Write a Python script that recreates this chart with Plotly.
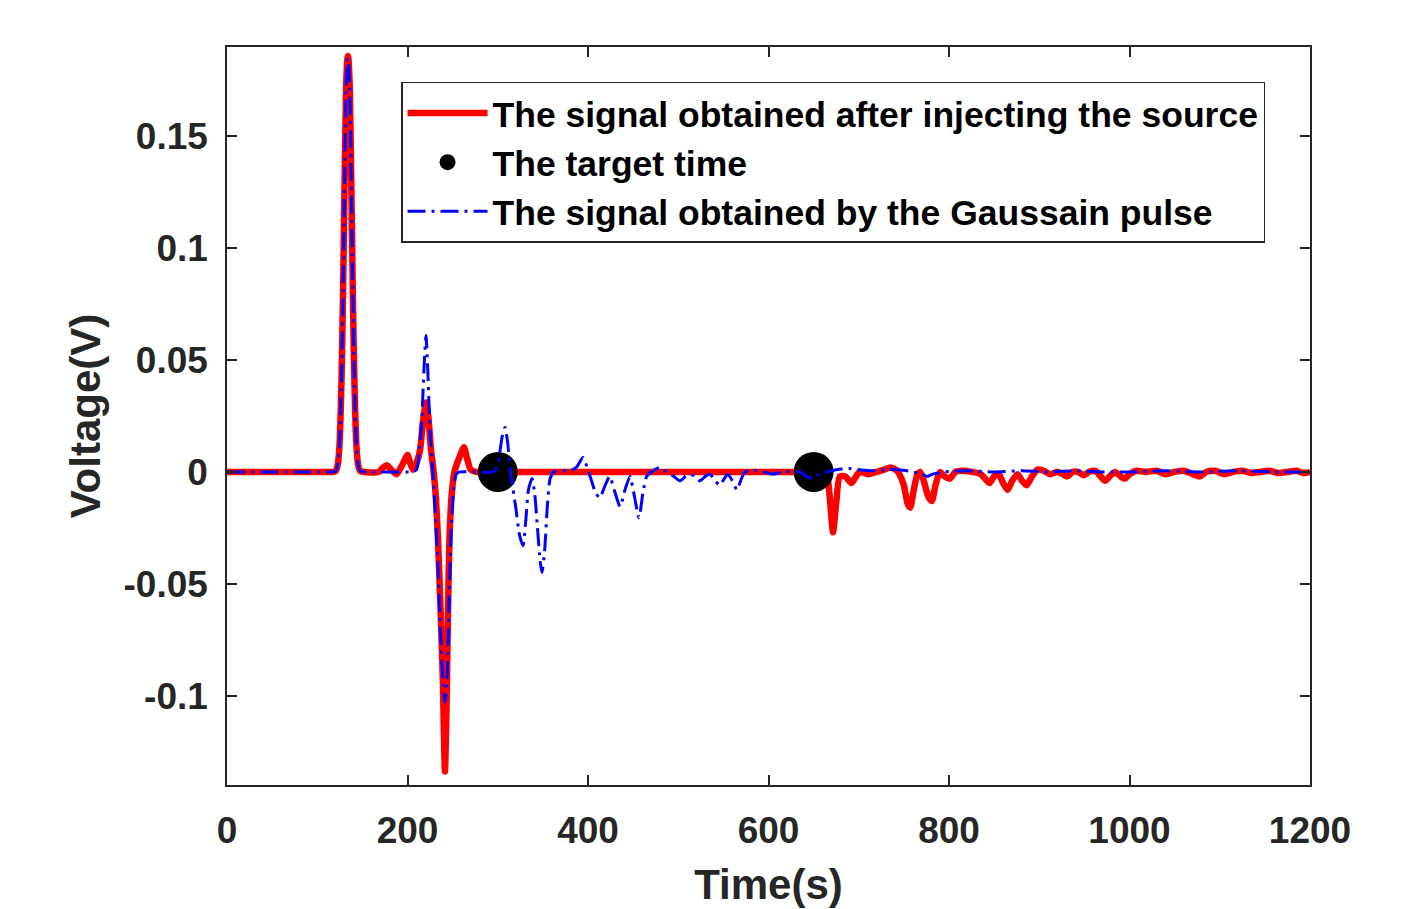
import plotly.graph_objects as go

# ---- data ----
t_red = [0, 100, 116, 120, 121.5, 123, 124.5, 126, 127.5, 129, 130.5, 132, 133.5, 134, 134.5, 136, 137.5, 139, 140.5, 142, 143.5,
         145, 146.5, 148, 152,
         168, 173, 177, 182, 188, 194, 200, 203, 206, 210, 214, 217, 220.5, 223, 226, 229, 231.5, 233.8, 236.5, 239.3, 240.5,
         241.5, 242.5, 243.7, 245, 246.5, 249, 252, 257, 262.5, 266, 270, 276, 300, 400, 500, 600, 640, 660, 665, 668, 671.5, 675, 679, 685, 692, 697,
         701, 710, 720, 728, 735, 741, 745, 750, 754, 757, 761, 765, 768, 772, 777, 781, 785, 790, 795, 801, 807, 815, 825, 835,
         840, 845, 850, 855, 860, 865, 870, 876, 881, 886, 892, 898, 905, 912, 920, 926, 931, 937, 943, 949, 955, 962, 968, 973,
         978, 984, 990, 995, 1000, 1008, 1018, 1030, 1040, 1050, 1060, 1070, 1078, 1085, 1095, 1105, 1115, 1125, 1135, 1145,
         1155, 1165, 1175, 1185, 1193, 1200]
v_red = [0, 0, 0, 0.0003, 0.0013, 0.004, 0.011, 0.027, 0.054, 0.092, 0.136, 0.172, 0.185, 0.186, 0.185, 0.172, 0.136, 0.092, 0.054, 0.027, 0.011,
         0.004, 0.0013, 0.0003, 0,
         0, 0.002, 0.003, 0.001, -0.001, 0.003, 0.0076, 0.004, 0.001, 0.004, 0.010, 0.022, 0.031, 0.025, 0.010, 0.0, -0.012, -0.03, -0.06, -0.095, -0.12,
         -0.134, -0.12, -0.095, -0.06, -0.03, -0.01, 0.0, 0.006, 0.011, 0.006, 0.001, 0, 0, 0, 0, 0, 0, 0, -0.002, -0.012, -0.027, -0.014, -0.002, -0.002, -0.005, -0.002,
         0.0, -0.001, 0.0, 0.001, 0.002, 0.001, -0.001, -0.006, -0.014, -0.016, -0.008, -0.001, 0, -0.004, -0.011, -0.013, -0.006, 0, -0.002, -0.003, 0, 0.0005, 0, -0.001,
         -0.003, -0.005, -0.002, -0.001, -0.005, -0.008, -0.004, -0.001, -0.004, -0.006, -0.002, 0.001, 0.0005, -0.001, 0.0, -0.001, -0.002, 0, 0, -0.0015, 0, 0.0005, -0.002, -0.004,
         -0.002, 0.0, -0.002, -0.003, -0.001, 0.0005, 0, 0.0005, -0.001, 0.0, 0.0005, -0.001, -0.002, 0, 0.0005, -0.001, 0, 0.0005, -0.0005, 0,
         0.0005, -0.0005, 0, 0.0005, -0.0005, 0]

t_blue = [0, 100, 116, 120, 121.5, 123, 124.5, 126, 127.5, 129, 130.5, 132, 133.5, 134, 134.5, 136, 137.5, 139, 140.5, 142, 143.5,
          145, 146.5, 148, 152, 170, 190,
          205, 210, 213, 216, 218.5, 220.5, 222.5, 225, 228, 231, 234, 237, 239.5, 241.5, 243.5, 246, 248.5, 251, 254, 258, 275,
          295, 299, 302, 305, 308, 311, 314, 317, 320, 324, 328, 331, 334, 338, 341, 344, 347, 349, 352, 355, 358, 362, 370, 380,
          387, 394.5, 399, 404, 408, 413, 418, 424, 429, 435.5, 441, 446.5, 451, 456.5, 461, 465, 470, 480, 487, 495, 502, 508,
          513, 518, 524, 530, 535, 541, 546, 551, 555, 560, 565, 570, 574, 580, 587, 595, 605, 615, 635, 642, 649, 656, 665, 675,
          690, 700, 715, 730, 745, 760, 770, 776, 782, 795, 820, 850, 880, 910, 940, 970, 1000, 1040, 1080, 1120, 1160, 1200]
v_blue = [0, 0, 0, 0.0003, 0.0013, 0.004, 0.011, 0.027, 0.054, 0.091, 0.135, 0.171, 0.184, 0.185, 0.184, 0.171, 0.135, 0.091, 0.054, 0.027, 0.011,
          0.004, 0.0013, 0.0003, 0, 0, 0,
          0, 0.001, 0.008, 0.025, 0.048, 0.061, 0.045, 0.018, 0.0, -0.02, -0.045, -0.075, -0.095, -0.103, -0.095, -0.06, -0.025, -0.008, -0.001, 0, 0,
          0, 0.002, 0.008, 0.016, 0.020, 0.013, 0.0, -0.008, -0.016, -0.028, -0.033, -0.022, -0.008, -0.003, -0.010, -0.025, -0.040, -0.045, -0.035, -0.015, -0.003, 0.0, 0.0005, 0.0005,
          0.002, 0.0065, 0.002, -0.004, -0.009, -0.0116, -0.007, -0.002, -0.008, -0.0155, -0.008, -0.002, -0.010, -0.0205, -0.009, -0.002, 0.0, 0.002, 0.0, -0.002, -0.004, -0.002,
          -0.001, -0.002, -0.004, -0.002, -0.001, -0.004, -0.006, -0.003, -0.001, -0.004, -0.008, -0.003, 0.0, 0.0005, 0.0006, 0.0, -0.001, 0, 0, -0.002, -0.003, -0.001, 0.0, 0.001,
          0.0015, 0.001, 0.0005, 0.001, 0.001, 0.0, -0.001, -0.002, -0.001, 0, 0.0005, 0, 0.0005, 0, 0.0005, 0, 0, 0.0005, 0, 0.0005, 0, 0]

t_target = [300, 650]
v_target = [0, 0]

x_ticks = [0, 200, 400, 600, 800, 1000, 1200]
y_ticks = [-0.1, -0.05, 0, 0.05, 0.1, 0.15]
y_tick_text = ["-0.1", "-0.05", "0", "0.05", "0.1", "0.15"]

FONT = "Liberation Sans, Arial, Helvetica, sans-serif"
AX = "#262626"

fig = go.Figure()
fig.add_trace(go.Scatter(x=t_red, y=v_red, mode="lines",
                         name="The signal obtained after injecting the source",
                         line=dict(color="#ff0000", width=6.5, shape="spline", smoothing=0.6)))
fig.add_trace(go.Scatter(x=t_target, y=v_target, mode="markers",
                         name="The target time",
                         marker=dict(color="black", size=40)))
fig.add_trace(go.Scatter(x=t_blue, y=v_blue, mode="lines",
                         name="The signal obtained by the Gaussain pulse",
                         line=dict(color="#0000ff", width=3, dash="18px,6px,3px,6px",
                                   shape="spline", smoothing=0.6)))

axis_common = dict(showgrid=False, zeroline=False, showline=True, linecolor=AX, linewidth=1.5,
                   mirror="ticks", ticks="inside", ticklen=10, tickwidth=1.5, tickcolor=AX,
                   automargin=False,
                   tickfont=dict(family=FONT, size=37, color=AX, weight="bold"))

fig.update_layout(
    width=1410, height=909,
    margin=dict(l=227, r=100, t=47, b=124),
    paper_bgcolor="white", plot_bgcolor="white",
    xaxis=dict(range=[0, 1200], tickvals=x_ticks, ticklabelstandoff=12,
               title=dict(text="Time(s)", font=dict(family=FONT, size=42, color=AX, weight="bold"), standoff=19),
               **axis_common),
    yaxis=dict(range=[-0.14, 0.19], tickvals=y_ticks, ticktext=y_tick_text, ticklabelstandoff=10,
               title=dict(text="Voltage(V)", font=dict(family=FONT, size=42, color=AX, weight="bold"), standoff=10),
               **axis_common),
    legend=dict(x=0.1607, y=0.9526, xanchor="left", yanchor="top",
                bgcolor="white", bordercolor=AX, borderwidth=1.5,
                font=dict(family=FONT, size=35.5, color="black", weight="bold"),
                itemwidth=80, tracegroupgap=0),
    showlegend=True,
)

fig.write_html("out.html")
